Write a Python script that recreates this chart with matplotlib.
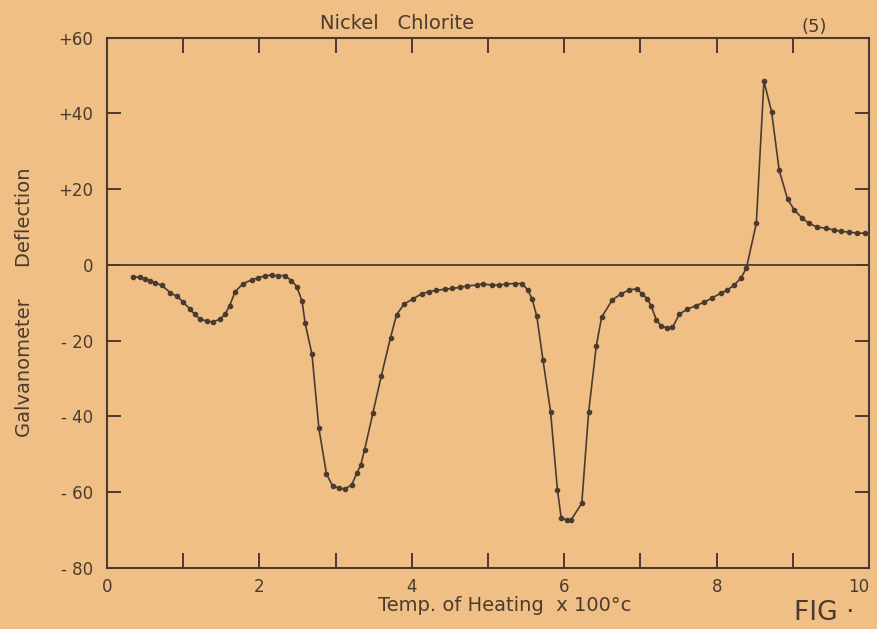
import matplotlib
matplotlib.use("Agg")
import matplotlib.pyplot as plt
import numpy as np

# readings taken off the original sheet
temp = [0.34, 0.43, 0.50, 0.56, 0.63, 0.72, 0.83, 0.92, 1.00, 1.09,
        1.15, 1.22, 1.31, 1.39, 1.48, 1.55, 1.61, 1.68, 1.78, 1.90,
        1.98, 2.07, 2.16, 2.24, 2.33, 2.42, 2.49, 2.56, 2.60, 2.69,
        2.78, 2.88, 2.96, 3.04, 3.12, 3.21, 3.28, 3.33, 3.38, 3.49,
        3.60, 3.72, 3.80, 3.90, 4.01, 4.13, 4.23, 4.32, 4.43, 4.53,
        4.63, 4.73, 4.85, 4.93, 5.05, 5.15, 5.24, 5.35, 5.44, 5.52,
        5.58, 5.64, 5.72, 5.82, 5.91, 5.96, 6.03, 6.09, 6.23, 6.32,
        6.42, 6.49, 6.63, 6.75, 6.85, 6.95, 7.02, 7.09, 7.14, 7.21,
        7.27, 7.35, 7.42, 7.51, 7.61, 7.73, 7.84, 7.94, 8.06, 8.14,
        8.23, 8.32, 8.39, 8.52, 8.62, 8.72, 8.82, 8.93, 9.02, 9.12,
        9.21, 9.32, 9.44, 9.54, 9.63, 9.74, 9.84, 9.95]
deflection = [-3.1, -3.3, -3.6, -4.1, -4.7, -5.4, -7.3, -8.3, -9.8, -11.7,
              -13.0, -14.3, -14.8, -15.1, -14.3, -13.0, -10.7, -7.1, -5.0, -3.9,
              -3.4, -2.9, -2.6, -2.8, -2.8, -4.1, -5.7, -9.6, -15.4, -23.6,
              -43.1, -55.2, -58.3, -58.9, -59.1, -58.1, -54.9, -52.8, -48.8, -39.0,
              -29.2, -19.2, -13.1, -10.3, -9.0, -7.6, -7.0, -6.7, -6.4, -6.2,
              -5.9, -5.5, -5.3, -5.0, -5.3, -5.3, -5.0, -4.9, -4.9, -6.5,
              -9.1, -13.6, -25.0, -38.7, -59.3, -66.8, -67.3, -67.3, -62.9, -38.8,
              -21.4, -13.8, -9.2, -7.6, -6.6, -6.3, -7.6, -8.9, -10.8, -14.6,
              -16.0, -16.7, -16.5, -13.0, -11.7, -10.7, -9.8, -8.7, -7.4, -6.6,
              -5.3, -3.4, -0.8, 11.0, 48.5, 40.5, 25.0, 17.4, 14.5, 12.4,
              11.0, 10.0, 9.7, 9.2, 8.9, 8.7, 8.4, 8.4]

xticks = [0, 1, 2, 3, 4, 5, 6, 7, 8, 9, 10]
xticklabels = ['0', '', '2', '', '4', '', '6', '', '8', '', '10']
yticks = [-80, -60, -40, -20, 0, 20, 40, 60]
yticklabels = ['- 80', '- 60', '- 40', '- 20', '0', '+20', '+40', '+60']

paper = '#efbf86'
ink = '#4a3b2e'

fig = plt.figure(figsize=(8.77, 6.29), dpi=100, facecolor=paper)
ax = fig.add_axes([0.122, 0.097, 0.869, 0.843])
ax.set_facecolor(paper)

ax.axhline(0, color=ink, lw=1.3)
ax.plot(temp, deflection, color=ink, lw=1.2, marker='o', ms=3,
        mfc=ink, mec=ink)

ax.set_xlim(0, 10)
ax.set_ylim(-80, 60)
ax.set_xticks(xticks)
ax.set_xticklabels(xticklabels)
ax.set_yticks(yticks)
ax.set_yticklabels(yticklabels)
ax.get_xticklabels()[-1].set_ha('right')

for s in ax.spines.values():
    s.set_color(ink)
    s.set_linewidth(1.5)
ax.tick_params(axis='x', direction='in', top=True, length=11, width=1.4,
               color=ink, labelcolor=ink, labelsize=12, pad=7)
ax.tick_params(axis='y', direction='in', right=True, length=10, width=1.4,
               color=ink, labelcolor=ink, labelsize=12, pad=10)

fig.text(0.453, 0.963, 'Nickel   Chlorite', fontsize=14, color=ink,
         ha='center', va='center')
fig.text(0.929, 0.957, '(5)', fontsize=13, color=ink, ha='center', va='center')
fig.text(0.575, 0.038, 'Temp. of Heating  x 100°c', fontsize=14, color=ink,
         ha='center', va='center')
fig.text(0.028, 0.52, 'Galvanometer     Deflection', fontsize=14, color=ink,
         rotation=90, ha='center', va='center')
fig.text(0.905, 0.004, 'FIG ·', fontsize=19, color=ink, ha='left', va='bottom')

fig.savefig('out.png', dpi=100, facecolor=paper)
